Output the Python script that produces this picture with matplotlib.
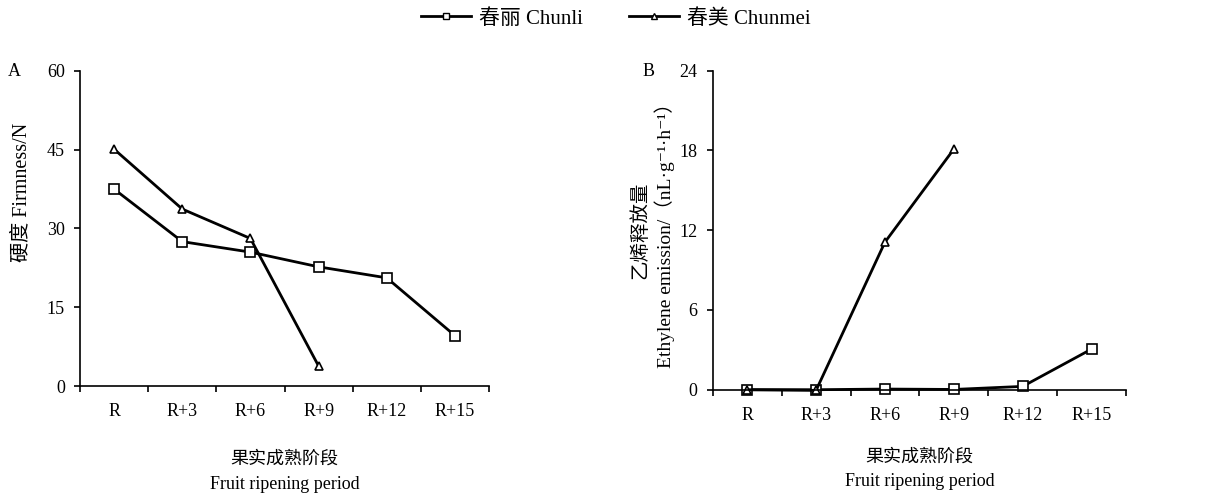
import numpy as np
import matplotlib.pyplot as plt
from matplotlib.lines import Line2D

plt.rcParams['font.family'] = ['Liberation Serif', 'Noto Sans CJK SC', 'DejaVu Sans']
plt.rcParams['font.size'] = 13

# Ripening stages
stages = ['R', 'R+3', 'R+6', 'R+9', 'R+12', 'R+15']

# Firmness (N)
firm_chunli = [37.5, 27.5, 25.5, 22.7, 20.6, 9.6]
firm_chunmei = [45.1, 33.7, 28.1, 3.8]

# Ethylene emission (nL·g-1·h-1)
eth_chunli = [0.0, 0.0, 0.05, 0.02, 0.25, 3.06]
eth_chunmei = [0.0, -0.05, 11.1, 18.1]

fig = plt.figure(figsize=(12.24, 4.94), dpi=100)
axA = fig.add_axes([0.0654, 0.2186, 0.3341, 0.6377])
axB = fig.add_axes([0.5823, 0.2111, 0.3377, 0.6459])

sq = dict(color='black', lw=2, marker='s', ms=6.5, mfc='white', mec='black', mew=1.2)
tri = dict(color='black', lw=2, marker='^', ms=6, mfc='white', mec='black', mew=1.2)


def style_axis(ax, ymax, ystep):
    for s in ['top', 'right']:
        ax.spines[s].set_visible(False)
    for s in ['left', 'bottom']:
        ax.spines[s].set_linewidth(1.2)
    ax.set_xlim(-0.5, len(stages) - 0.5)
    ax.set_ylim(0, ymax)
    ax.set_yticks(np.arange(0, ymax + 0.1, ystep))
    ax.set_xticks(np.arange(-0.5, len(stages), 1.0))
    ax.set_xticklabels([])
    ax.set_xticks(np.arange(len(stages)), minor=True)
    ax.set_xticklabels(stages, minor=True)
    ax.tick_params(axis='x', which='major', direction='out', length=4, width=1.2)
    ax.tick_params(axis='x', which='minor', length=0, pad=12.5)
    ax.tick_params(axis='y', direction='out', length=4, width=1.2, pad=7)


x = np.arange(len(stages))

# Panel A: firmness
axA.plot(x, firm_chunli, **sq, clip_on=False)
axA.plot(x[:len(firm_chunmei)], firm_chunmei, **tri, clip_on=False)
style_axis(axA, 60, 15)
axA.set_ylabel('硬度 Firmness/N', fontsize=14.5)
axA.yaxis.set_label_coords(-0.118, 0.615)
axA.set_xlabel('果实成熟阶段\nFruit ripening period', labelpad=22, linespacing=1.6)
fig.text(0.006, 0.855, 'A', fontsize=13, va='center')

# Panel B: ethylene emission
axB.plot(x, eth_chunli, **sq, clip_on=False)
axB.plot(x[:len(eth_chunmei)], eth_chunmei, **tri, clip_on=False)
style_axis(axB, 24, 6)
axB.set_ylabel('乙烯释放量\nEthylene emission/（nL·g⁻¹·h⁻¹）', fontsize=14, labelpad=3, linespacing=1.3)
axB.set_xlabel('果实成熟阶段\nFruit ripening period', labelpad=18, linespacing=1.5)
fig.text(0.525, 0.855, 'B', fontsize=13, va='center')

handles = [Line2D([], [], color='black', lw=2, marker='s', ms=5, mfc='white', mec='black', mew=1),
           Line2D([], [], color='black', lw=2, marker='^', ms=5, mfc='white', mec='black', mew=1)]
fig.legend(handles, ['春丽 Chunli', '春美 Chunmei'], loc='center', bbox_to_anchor=(0.503, 0.962),
           ncol=2, frameon=False, fontsize=15, handlelength=2.4, columnspacing=2.2,
           handletextpad=0.4)

fig.savefig('out.png', dpi=100)
